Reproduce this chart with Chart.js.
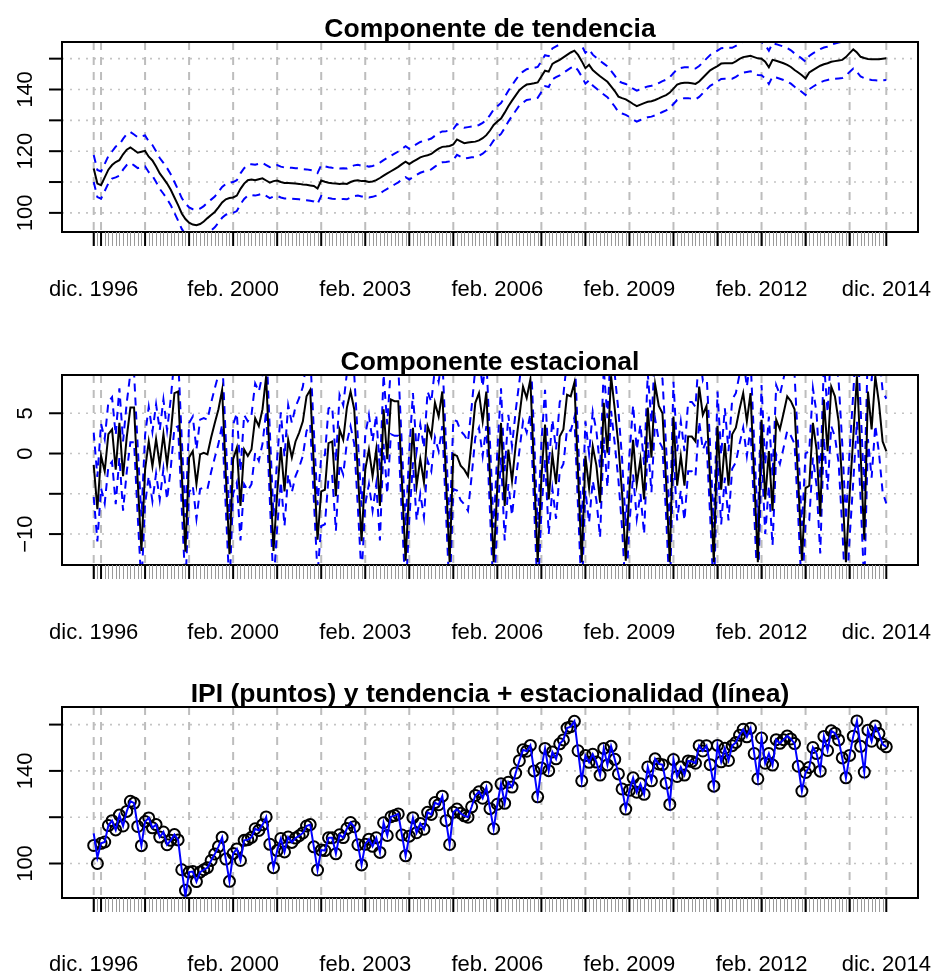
<!DOCTYPE html>
<html>
<head>
<meta charset="utf-8">
<script src="https://cdn.jsdelivr.net/npm/chart.js@4.4.1/dist/chart.umd.min.js"></script>
<style>
  body { margin: 0; background: #fff; }
  .panel { position: absolute; left: 0; width: 933px; height: 325px; }
</style>
</head>
<body>
<div class="panel" style="top:0px"><canvas id="tendencia" width="933" height="325"></canvas></div>
<div class="panel" style="top:325px"><canvas id="estacional" width="933" height="325"></canvas></div>
<div class="panel" style="top:650px"><canvas id="ajuste" width="933" height="325"></canvas></div>
<script>
// Serie mensual: dic. 1996 (indice 0) a dic. 2014 (indice 216)
const tendencia = [
  114.4,109.5,109.0,111.5,114.0,115.5,116.5,117.1,119.0,120.5,121.2,120.4,119.5,
  119.8,120.1,118.2,117.0,115.0,112.8,111.2,109.5,107.5,105.0,102.5,99.8,
  98.0,96.8,96.2,96.0,96.4,97.2,98.3,99.3,100.3,101.8,103.4,104.4,
  104.8,105.0,105.6,107.8,109.5,110.6,110.8,110.6,110.9,111.2,110.5,109.8,
  110.3,110.5,110.0,109.7,109.7,109.6,109.5,109.4,109.2,109.1,108.9,108.7,
  107.9,110.5,110.1,109.8,109.6,109.5,109.4,109.5,109.4,110.0,110.4,110.6,
  110.3,110.3,110.0,110.2,110.6,111.3,112.1,112.8,113.5,114.2,114.9,115.8,
  116.6,115.8,116.6,117.3,118.0,118.4,118.7,119.1,120.0,120.8,121.4,121.5,
  121.7,122.2,123.8,123.2,122.6,122.8,123.0,123.1,123.5,124.2,125.2,126.7,
  128.5,129.6,130.6,132.5,134.6,136.4,138.1,139.8,140.8,141.6,141.8,142.0,
  142.3,144.2,146.1,145.8,148.3,149.0,149.6,150.4,151.2,152.0,152.6,151.2,
  149.2,146.9,148.0,146.3,145.3,144.3,143.4,142.5,141.0,139.5,137.7,137.2,
  136.8,136.1,135.3,134.6,135.1,135.6,136.0,136.2,136.6,137.1,137.7,138.2,
  139.0,140.3,141.6,142.0,142.2,142.2,142.0,141.8,142.6,143.8,145.0,146.2,
  146.9,147.6,148.4,148.5,148.5,148.5,149.1,149.9,150.5,150.7,150.9,150.5,
  150.1,150.0,149.0,147.2,149.6,149.3,148.9,148.5,148.0,147.3,146.3,145.5,
  144.6,143.6,145.5,146.3,147.0,147.7,148.2,148.5,149.0,149.2,149.4,149.6,
  150.5,151.8,153.0,152.0,150.6,150.2,149.9,149.8,149.8,149.8,150.0,150.1
];
const tendenciaSup = [
  118.8,113.9,113.4,115.9,118.4,119.9,121.5,122.1,124.0,125.5,126.2,125.4,124.5,
  124.8,125.1,123.2,122.0,120.0,117.8,116.2,114.5,112.5,110.0,107.5,104.8,
  103.0,101.8,101.2,101.0,101.4,102.2,103.3,104.3,105.3,106.8,108.4,109.4,
  109.8,110.0,110.6,112.8,114.5,115.6,115.8,115.6,115.9,116.2,115.5,114.8,
  115.3,115.5,115.0,114.7,114.7,114.6,114.5,114.4,114.2,114.1,113.9,113.7,
  112.9,115.5,115.1,114.8,114.6,114.5,114.4,114.5,114.4,115.0,115.4,115.6,
  115.3,115.3,115.0,115.2,115.6,116.3,117.1,117.8,118.5,119.2,119.9,120.8,
  121.6,120.8,121.6,122.3,123.0,123.4,123.7,124.1,125.0,125.8,126.4,126.5,
  126.7,127.2,128.8,128.2,127.6,127.8,128.0,128.1,128.5,129.2,130.2,131.7,
  133.5,134.6,135.6,137.5,139.6,141.4,143.1,144.8,145.8,146.6,146.8,147.0,
  147.3,149.2,151.1,150.8,153.3,154.0,154.6,155.4,156.2,157.0,157.6,156.2,
  154.2,151.9,153.0,151.3,150.3,149.3,148.4,147.5,146.0,144.5,142.7,142.2,
  141.8,141.1,140.3,139.6,140.1,140.6,141.0,141.2,141.6,142.1,142.7,143.2,
  144.0,145.3,146.6,147.0,147.2,147.2,147.0,146.8,147.6,148.8,150.0,151.2,
  151.9,152.6,153.4,153.5,153.5,153.5,154.1,154.9,155.5,155.7,155.9,155.5,
  155.5,155.4,154.4,152.6,155.0,154.7,154.3,153.9,153.4,152.7,151.7,150.9,
  150.0,149.0,150.9,151.7,152.4,153.1,153.6,153.9,154.6,154.9,155.2,155.5,
  156.5,157.9,159.2,158.3,157.0,156.7,156.5,156.5,156.6,156.7,157.0,157.1
];
const tendenciaInf = [
  110.0,105.1,104.6,107.1,109.6,111.1,111.5,112.1,114.0,115.5,116.2,115.4,114.5,
  114.8,115.1,113.2,112.0,110.0,107.8,106.2,104.5,102.5,100.0,97.5,94.8,
  93.0,91.8,91.2,91.0,91.4,92.2,93.3,94.3,95.3,96.8,98.4,99.4,
  99.8,100.0,100.6,102.8,104.5,105.6,105.8,105.6,105.9,106.2,105.5,104.8,
  105.3,105.5,105.0,104.7,104.7,104.6,104.5,104.4,104.2,104.1,103.9,103.7,
  102.9,105.5,105.1,104.8,104.6,104.5,104.4,104.5,104.4,105.0,105.4,105.6,
  105.3,105.3,105.0,105.2,105.6,106.3,107.1,107.8,108.5,109.2,109.9,110.8,
  111.6,110.8,111.6,112.3,113.0,113.4,113.7,114.1,115.0,115.8,116.4,116.5,
  116.7,117.2,118.8,118.2,117.6,117.8,118.0,118.1,118.5,119.2,120.2,121.7,
  123.5,124.6,125.6,127.5,129.6,131.4,133.1,134.8,135.8,136.6,136.8,137.0,
  137.3,139.2,141.1,140.8,143.3,144.0,144.6,145.4,146.2,147.0,147.6,146.2,
  144.2,141.9,143.0,141.3,140.3,139.3,138.4,137.5,136.0,134.5,132.7,132.2,
  131.8,131.1,130.3,129.6,130.1,130.6,131.0,131.2,131.6,132.1,132.7,133.2,
  134.0,135.3,136.6,137.0,137.2,137.2,137.0,136.8,137.6,138.8,140.0,141.2,
  141.9,142.6,143.4,143.5,143.5,143.5,144.1,144.9,145.5,145.7,145.9,145.5,
  144.7,144.6,143.6,141.8,144.2,143.9,143.5,143.1,142.6,141.9,140.9,140.1,
  139.2,138.2,140.1,140.9,141.6,142.3,142.8,143.1,143.4,143.5,143.6,143.7,
  144.5,145.7,146.8,145.7,144.2,143.7,143.3,143.1,143.0,142.9,143.0,143.1
];
const estacional = [
  -1.4,-6.9,-0.3,-2.2,2.4,3.0,-2.0,3.8,-2.8,2.0,5.7,5.7,-3.5,
  -12.1,-2.0,1.5,-1.6,1.8,-1.4,2.4,-1.4,2.5,7.5,7.7,-2.5,
  -12.2,-0.5,0.3,-3.8,-0.1,0.1,-0.1,2.0,3.8,5.5,7.9,-2.5,
  -12.5,-0.7,0.7,-6.5,0.5,-0.3,0.5,4.4,3.4,5.5,9.6,-1.5,
  -12.1,-4.9,0.8,-4.7,1.7,-0.5,1.5,2.6,4.0,7.1,7.9,-1.5,
  -10.7,-4.7,-4.5,1.3,1.5,-5.3,3.0,1.7,5.7,7.7,5.5,-2.5,
  -10.9,-2.0,0.5,-2.8,0.5,-6.5,5.5,-0.7,6.7,6.5,6.5,-3.5,
  -13.3,-4.0,3.2,-4.0,-0.7,-3.6,3.4,2.1,6.3,4.6,7.7,-3.0,
  -13.5,-0.1,-0.3,-1.5,-2.0,-2.8,1.5,6.3,7.5,4.0,7.7,-3.0,
  -13.5,-4.0,3.8,-6.5,0.5,-3.4,1.0,4.6,8.3,6.9,9.2,-2.0,
  -13.5,-3.0,3.6,-5.7,-0.1,-3.8,2.1,3.0,7.3,7.1,8.8,-2.5,
  -13.5,-0.3,-4.3,0.9,-1.5,-6.1,6.3,0.1,9.6,5.5,1.0,-5.0,
  -13.3,-4.5,1.7,-3.8,-0.7,-5.7,5.7,-0.5,8.6,5.9,5.0,-3.5,
  -13.5,4.6,-4.0,-0.3,-4.0,2.1,2.1,1.5,8.3,4.8,5.9,-3.5,
  -13.5,3.4,-4.5,1.3,-4.0,2.4,3.2,5.5,7.5,4.0,7.5,-3.0,
  -13.5,4.2,-5.7,0.3,-7.1,4.2,3.0,5.0,7.1,6.5,5.5,-3.5,
  -13.3,-4.3,-4.0,3.8,0.5,-7.8,6.7,0.3,8.3,7.1,4.0,-4.0,
  -13.5,-5.1,2.0,9.6,0.0,-10.7,7.7,3.0,9.6,6.3,1.5,0.3
];
const estacionalSup = [
  2.6,-2.9,3.7,1.8,6.4,7.0,2.3,8.1,1.5,6.3,10.0,10.0,0.8,
  -7.8,2.3,5.8,2.7,6.1,2.9,6.7,2.9,6.8,11.8,12.0,1.8,
  -7.9,3.8,4.6,0.5,4.2,4.4,4.2,6.3,8.1,9.8,12.2,1.8,
  -8.2,3.6,5.0,-2.2,4.8,4.0,4.8,8.7,7.7,9.8,13.9,2.8,
  -7.8,-0.6,5.1,-0.4,6.0,3.8,5.8,6.9,8.3,11.4,12.2,2.8,
  -6.4,-0.4,-0.2,5.6,5.8,-1.0,7.3,6.0,10.0,12.0,9.8,1.8,
  -6.6,2.3,4.8,1.5,4.8,-2.2,9.8,3.6,11.0,10.8,10.8,0.8,
  -9.0,0.3,7.5,0.3,3.6,0.7,7.7,6.4,10.6,8.9,12.0,1.3,
  -9.2,4.2,4.0,2.8,2.3,1.5,5.8,10.6,11.8,8.3,12.0,1.3,
  -9.2,0.3,8.1,-2.2,4.8,0.9,5.3,8.9,12.6,11.2,13.5,2.3,
  -9.2,1.3,7.9,-1.4,4.2,0.5,6.4,7.3,11.6,11.4,13.1,1.8,
  -9.2,4.0,0.0,5.2,2.8,-1.8,10.6,4.4,13.9,9.8,5.3,-0.7,
  -9.0,-0.2,6.0,0.5,3.6,-1.4,10.0,3.8,12.9,10.2,9.3,0.8,
  -9.2,8.9,0.3,4.0,0.3,6.4,6.4,5.8,12.6,9.1,10.2,0.8,
  -9.2,7.7,-0.2,5.6,0.3,6.7,7.5,9.8,11.8,8.3,11.8,1.3,
  -9.2,8.5,-1.4,4.6,-2.8,8.5,7.3,9.3,11.4,10.8,9.8,0.8,
  -9.0,0.0,0.3,8.1,5.0,-3.2,11.4,5.1,13.2,12.1,9.1,1.2,
  -8.2,0.3,7.5,15.2,5.7,-4.9,13.6,9.0,15.7,12.5,7.8,6.8
];
const estacionalInf = [
  -5.4,-10.9,-4.3,-6.2,-1.6,-1.0,-6.3,-0.5,-7.1,-2.3,1.4,1.4,-7.8,
  -16.4,-6.3,-2.8,-5.9,-2.5,-5.7,-1.9,-5.7,-1.8,3.2,3.4,-6.8,
  -16.5,-4.8,-4.0,-8.1,-4.4,-4.2,-4.4,-2.3,-0.5,1.2,3.6,-6.8,
  -16.8,-5.0,-3.6,-10.8,-3.8,-4.6,-3.8,0.1,-0.9,1.2,5.3,-5.8,
  -16.4,-9.2,-3.5,-9.0,-2.6,-4.8,-2.8,-1.7,-0.3,2.8,3.6,-5.8,
  -15.0,-9.0,-8.8,-3.0,-2.8,-9.6,-1.3,-2.6,1.4,3.4,1.2,-6.8,
  -15.2,-6.3,-3.8,-7.1,-3.8,-10.8,1.2,-5.0,2.4,2.2,2.2,-7.8,
  -17.6,-8.3,-1.1,-8.3,-5.0,-7.9,-0.9,-2.2,2.0,0.3,3.4,-7.3,
  -17.8,-4.4,-4.6,-5.8,-6.3,-7.1,-2.8,2.0,3.2,-0.3,3.4,-7.3,
  -17.8,-8.3,-0.5,-10.8,-3.8,-7.7,-3.3,0.3,4.0,2.6,4.9,-6.3,
  -17.8,-7.3,-0.7,-10.0,-4.4,-8.1,-2.2,-1.3,3.0,2.8,4.5,-6.8,
  -17.8,-4.6,-8.6,-3.4,-5.8,-10.4,2.0,-4.2,5.3,1.2,-3.3,-9.3,
  -17.6,-8.8,-2.6,-8.1,-5.0,-10.0,1.4,-4.8,4.3,1.6,0.7,-7.8,
  -17.8,0.3,-8.3,-4.6,-8.3,-2.2,-2.2,-2.8,4.0,0.5,1.6,-7.8,
  -17.8,-0.9,-8.8,-3.0,-8.3,-1.9,-1.1,1.2,3.2,-0.3,3.2,-7.3,
  -17.8,-0.1,-10.0,-4.0,-11.4,-0.1,-1.3,0.7,2.8,2.2,1.2,-7.8,
  -17.6,-8.6,-8.3,-0.5,-4.0,-12.4,2.0,-4.5,3.4,2.1,-1.1,-9.2,
  -18.8,-10.5,-3.5,4.0,-5.7,-16.5,1.8,-3.0,3.5,0.1,-4.8,-6.2
];
const ipi = [
  107.8,100.0,108.7,109.3,116.4,118.5,114.5,120.9,116.2,122.5,126.9,126.1,116.0,
  107.7,118.1,119.7,115.4,116.8,111.4,113.6,108.1,110.0,112.5,110.2,97.3,
  88.4,96.3,96.5,92.2,96.3,97.3,98.2,101.3,104.1,107.3,111.3,101.9,
  92.3,104.3,106.3,101.3,110.0,110.3,111.3,115.0,114.3,116.7,120.1,108.3,
  98.2,105.6,110.8,105.0,111.4,109.1,111.0,112.0,113.2,116.2,116.8,107.2,
  97.2,105.8,105.6,111.1,111.1,104.2,112.4,111.2,115.1,117.7,115.9,108.1,
  99.4,108.3,110.5,107.4,111.1,104.8,117.6,112.1,120.2,120.7,121.4,112.3,
  103.3,111.8,119.8,113.3,117.3,114.8,122.1,121.2,126.3,125.4,129.1,118.5,
  108.2,122.1,123.5,121.7,120.6,120.0,124.5,129.4,131.0,128.2,132.9,123.7,
  115.0,125.6,134.4,126.0,135.1,133.0,139.1,144.4,149.1,148.5,151.0,140.0,
  128.8,141.2,149.7,140.1,148.2,145.2,151.7,153.4,158.5,159.1,161.4,148.7,
  135.7,146.6,143.7,147.2,143.8,138.2,149.7,142.6,150.6,145.0,138.7,132.2,
  123.5,131.6,137.0,130.8,134.4,129.9,141.7,135.7,145.2,143.0,142.7,134.7,
  125.5,144.9,137.6,141.7,138.2,144.3,144.1,143.3,150.9,148.6,150.9,142.7,
  133.4,151.0,143.9,149.8,144.5,150.9,152.3,155.4,158.0,154.7,158.4,147.5,
  136.6,154.2,143.3,147.5,142.5,153.5,151.9,153.5,155.1,153.8,151.8,142.0,
  131.3,139.3,141.5,150.1,147.5,139.9,154.9,148.8,157.3,156.3,153.4,145.6,
  137.0,146.7,155.0,161.6,150.6,139.5,157.6,152.8,159.4,156.1,151.5,150.4
];

const meses = ['ene.', 'feb.', 'mar.', 'abr.', 'may.', 'jun.', 'jul.', 'ago.', 'sep.', 'oct.', 'nov.', 'dic.'];
const fechas = tendencia.map((_, i) => meses[(11 + i) % 12] + ' ' + (1996 + Math.floor((11 + i) / 12)));

// marcas mayores: primer dato, cada febrero y ultimo dato
const marcasX = [0];
for (let i = 2; i < fechas.length; i += 12) marcasX.push(i);
marcasX.push(fechas.length - 1);
const rotulosX = [0, 38, 74, 110, 146, 182, 216];

const FUENTE = '"Liberation Sans", Arial, Helvetica, sans-serif';

const ejesR = {
  id: 'ejesR',
  beforeDatasetsDraw(chart, args, o) {
    const { ctx, chartArea: a, scales: { x, y } } = chart;
    ctx.save();
    // rejilla horizontal punteada
    ctx.strokeStyle = '#c4c4c4';
    ctx.lineWidth = 1.6;
    ctx.setLineDash([2, 6]);
    o.yMarcas.forEach(v => {
      const py = y.getPixelForValue(v);
      ctx.beginPath(); ctx.moveTo(a.left, py); ctx.lineTo(a.right, py); ctx.stroke();
    });
    // rejilla vertical discontinua en las marcas mayores
    ctx.strokeStyle = '#bdbdbd';
    ctx.lineWidth = 2;
    ctx.setLineDash([8, 7]);
    marcasX.forEach(i => {
      const px = x.getPixelForValue(i);
      ctx.beginPath(); ctx.moveTo(px, a.top); ctx.lineTo(px, a.bottom); ctx.stroke();
    });
    ctx.restore();
  },
  afterDraw(chart, args, o) {
    const { ctx, chartArea: a, scales: { x, y } } = chart;
    ctx.save();
    ctx.setLineDash([]);
    // marco
    ctx.strokeStyle = '#000';
    ctx.lineWidth = 2;
    ctx.strokeRect(a.left, a.top, a.right - a.left, a.bottom - a.top);
    // marcas menores (cada mes)
    ctx.strokeStyle = '#9a9a9a';
    ctx.lineWidth = 1;
    fechas.forEach((_, i) => {
      const px = Math.round(x.getPixelForValue(i)) + 0.5;
      ctx.beginPath(); ctx.moveTo(px, a.bottom); ctx.lineTo(px, a.bottom + 14); ctx.stroke();
    });
    ctx.strokeStyle = '#000';
    ctx.lineWidth = 2;
    marcasX.forEach(i => {
      const px = x.getPixelForValue(i);
      ctx.beginPath(); ctx.moveTo(px, a.bottom); ctx.lineTo(px, a.bottom + 14); ctx.stroke();
    });
    // eje y
    o.yMarcas.forEach(v => {
      const py = y.getPixelForValue(v);
      ctx.beginPath(); ctx.moveTo(a.left, py); ctx.lineTo(a.left - 13, py); ctx.stroke();
    });
    ctx.fillStyle = '#000';
    ctx.font = '22px ' + FUENTE;
    ctx.textAlign = 'center';
    o.yRotulos.forEach(v => {
      const py = y.getPixelForValue(v);
      ctx.save();
      ctx.translate(a.left - 30, py);
      ctx.rotate(-Math.PI / 2);
      ctx.textBaseline = 'alphabetic';
      ctx.fillText(String(v).replace('-', '\u2212'), 0, 0);
      ctx.restore();
    });
    // rotulos de fecha
    ctx.textBaseline = 'middle';
    rotulosX.forEach(i => {
      ctx.fillText(fechas[i], x.getPixelForValue(i), a.bottom + o.bajada);
    });
    // titulo
    ctx.font = 'bold 26.5px ' + FUENTE;
    ctx.textBaseline = 'alphabetic';
    ctx.fillText(o.titulo, (a.left + a.right) / 2, a.top - 5);
    ctx.restore();
  }
};

function puntos(serie) {
  return serie.map((v, i) => ({ x: i, y: v }));
}

function panel(id, datasets, yMin, yMax, pad, extra) {
  return new Chart(document.getElementById(id), {
    type: 'line',
    data: { datasets },
    plugins: [ejesR],
    options: {
      responsive: false,
      animation: false,
      events: [],
      layout: { padding: { left: 62, right: 15, top: pad[0], bottom: pad[1] } },
      elements: { line: { tension: 0 }, point: { radius: 0 } },
      scales: {
        x: { type: 'linear', min: -8.64, max: 224.64, display: false },
        y: { type: 'linear', min: yMin, max: yMax, display: false }
      },
      plugins: { legend: { display: false }, tooltip: { enabled: false }, ejesR: extra }
    }
  });
}

const linea = (serie, color, ancho) => ({ data: puntos(serie), borderColor: color, borderWidth: ancho, pointRadius: 0, fill: false });
const banda = serie => ({ data: puntos(serie), borderColor: '#0000ff', borderWidth: 2, borderDash: [8, 6], pointRadius: 0, fill: false });

panel('tendencia', [
  linea(tendencia, '#000', 2),
  banda(tendenciaSup),
  banda(tendenciaInf)
], 93.8, 155.4, [42, 93], {
  titulo: 'Componente de tendencia', yMarcas: [100, 110, 120, 130, 140, 150], yRotulos: [100, 120, 140], bajada: 58
});

panel('estacional', [
  linea(estacional, '#000', 2),
  banda(estacionalSup),
  banda(estacionalInf)
], -13.84, 9.75, [50, 85], {
  titulo: 'Componente estacional', yMarcas: [-10, -5, 0, 5], yRotulos: [-10, 0, 5], bajada: 68
});

// la linea del ultimo panel es tendencia + estacionalidad
const ajustada = tendencia.map((v, i) => Math.round((v + estacional[i]) * 10) / 10);
panel('ajuste', [
  linea(ajustada, '#0000ff', 2),
  { data: puntos(ipi), showLine: false, pointRadius: 5.5, pointBorderWidth: 2,
    pointBorderColor: '#000', pointBackgroundColor: 'rgba(0,0,0,0)' }
], 85.1, 167.6, [57, 77], {
  titulo: 'IPI (puntos) y tendencia + estacionalidad (l\u00ednea)', yMarcas: [100, 120, 140, 160], yRotulos: [100, 140], bajada: 67
});
</script>
</body>
</html>
